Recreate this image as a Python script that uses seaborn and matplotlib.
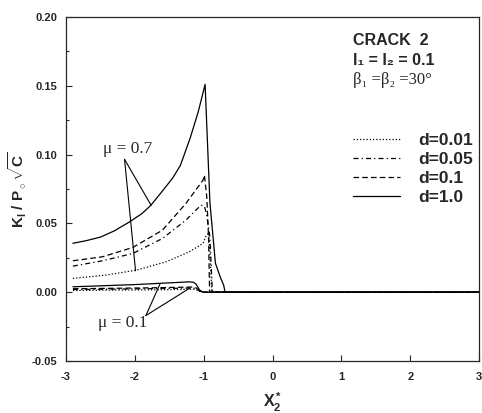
import numpy as np
import pandas as pd
import matplotlib
matplotlib.use("Agg")
import matplotlib.pyplot as plt
import seaborn as sns

# ---- data -------------------------------------------------------------
# mu = 0.7 family
x_d001_m07 = [-2.9, -2.42, -1.98, -1.55, -1.21, -1.01, -0.965, -0.93, -0.90, -0.885, 3.0]
y_d001_m07 = [0.0100, 0.0124, 0.0160, 0.0220, 0.0293, 0.0354, 0.041, 0.043, 0.020, 0.0, 0.0]

x_d005_m07 = [-2.9, -2.47, -2.03, -1.6, -1.26, -1.04, -0.99, -0.96, -0.91, -0.88, -0.87, 3.0]
y_d005_m07 = [0.0189, 0.0228, 0.0281, 0.0390, 0.0523, 0.0632, 0.0625, 0.057, 0.040, 0.006, 0.0, 0.0]

x_d01_m07 = [-2.9, -2.47, -2.03, -1.6, -1.26, -1.01, -0.99, -0.955, -0.93, -0.917, -0.915, 3.0]
y_d01_m07 = [0.0228, 0.0257, 0.0325, 0.0450, 0.0644, 0.0814, 0.085, 0.069, 0.040, 0.006, 0.0, 0.0]

x_d1_m07 = [-2.9, -2.7, -2.5, -2.3, -2.08, -1.9, -1.77, -1.6, -1.45, -1.34, -1.2, -1.08, -0.98,
            -0.91, -0.83, -0.76, -0.71, -0.69, 3.0]
y_d1_m07 = [0.0355, 0.0375, 0.0400, 0.0445, 0.0510, 0.0570, 0.0630, 0.0735, 0.0830, 0.0920,
            0.1115, 0.1310, 0.1510, 0.065, 0.021, 0.011, 0.005, 0.0, 0.0]

# mu = 0.1 family
x_m01 = [-2.9, -2.5, -2.0, -1.69, -1.4, -1.21, -1.15, -1.11, -1.06, -1.01, 3.0]
y_d001_m01 = [0.0012, 0.0014, 0.0016, 0.0017, 0.0019, 0.0021, 0.0021, 0.0018, 0.0006, 0.0, 0.0]
y_d005_m01 = [0.0019, 0.0021, 0.0024, 0.0026, 0.0028, 0.0030, 0.0030, 0.0025, 0.0008, 0.0, 0.0]
y_d01_m01 = [0.0025, 0.0027, 0.0030, 0.0032, 0.0035, 0.0037, 0.0037, 0.0031, 0.0010, 0.0, 0.0]
y_d1_m01 = [0.0039, 0.0046, 0.0055, 0.0063, 0.0070, 0.0075, 0.0072, 0.0058, 0.0015, 0.0, 0.0]

d_labels = ["d=0.01", "d=0.05", "d=0.1", "d=1.0"]

x_ticks = [-3, -2, -1, 0, 1, 2, 3]
y_ticks = [-0.05, 0.00, 0.05, 0.10, 0.15, 0.20]

# ---- style ------------------------------------------------------------
sns.set_style("ticks")
plt.rcParams["font.family"] = ["Liberation Sans", "DejaVu Sans"]
plt.rcParams["axes.unicode_minus"] = False
plt.rcParams["mathtext.fontset"] = "custom"
plt.rcParams["mathtext.rm"] = "Liberation Sans:bold"
plt.rcParams["mathtext.it"] = "Liberation Sans:bold"
plt.rcParams["mathtext.bf"] = "Liberation Sans:bold"

styles = {
    "d=0.01": (0, (1, 1.6)),
    "d=0.05": (0, (4, 2.5, 1, 2.5)),
    "d=0.1": (0, (4.5, 2.5)),
    "d=1.0": "-",
}

fig = plt.figure(figsize=(4.82, 4.13), dpi=100)
ax = fig.add_axes([0.137, 0.126, 0.857, 0.833])

curves = [
    ("d=0.01", x_d001_m07, y_d001_m07), ("d=0.05", x_d005_m07, y_d005_m07),
    ("d=0.1", x_d01_m07, y_d01_m07), ("d=1.0", x_d1_m07, y_d1_m07),
    ("d=0.01", x_m01, y_d001_m01), ("d=0.05", x_m01, y_d005_m01),
    ("d=0.1", x_m01, y_d01_m01), ("d=1.0", x_m01, y_d1_m01),
]
seen = set()
for lab, xs, ys in curves:
    df = pd.DataFrame({"x": xs, "y": ys})
    sns.lineplot(data=df, x="x", y="y", ax=ax, color="black", lw=0.9,
                 linestyle=styles[lab], sort=False, estimator=None,
                 label=lab if lab not in seen else None)
    seen.add(lab)

ax.set_xlim(-3, 3)
ax.set_ylim(-0.05, 0.20)
ax.set_xticks(x_ticks)
ax.set_yticks(y_ticks)
ax.set_yticks(np.arange(-0.025, 0.2, 0.05), minor=True)
ax.set_xticklabels([str(v) for v in x_ticks], fontweight="bold", fontsize=8)
ax.set_yticklabels([f"{v:.2f}" for v in y_ticks], fontweight="bold", fontsize=8)
ax.tick_params(which="both", direction="in", top=False, right=False)
ax.tick_params(which="major", length=4, width=0.8)
ax.tick_params(which="minor", length=2.5, width=0.8)
ax.tick_params(axis="x", pad=8)
ax.tick_params(axis="y", pad=6)
for s in ax.spines.values():
    s.set_linewidth(0.9)
    s.set_visible(True)

ax.set_xlabel(r"X$_2^*$", fontsize=11.5, fontweight="bold", va="top")
ax.xaxis.set_label_coords(0.5, -0.088)
ax.set_ylabel(r"K$_{\rm I}$ / P$_\circ\sqrt{\rm C}$", fontsize=11, fontweight="bold")
ax.yaxis.set_label_coords(-0.09, 0.497)

# legend
handles, labels = ax.get_legend_handles_labels()
leg = ax.legend(handles, labels, loc="upper left", bbox_to_anchor=(0.678, 0.682),
                frameon=False, handlelength=2.7, handletextpad=1.03,
                labelspacing=0.22, borderaxespad=0, prop={"weight": "bold", "size": 12.5})

# caption block
ax.text(1.17, 0.183, "CRACK  2", fontsize=11.5, fontweight="bold", va="center", ha="left")
ax.text(1.17, 0.1686, "l\u2081 = l\u2082 = 0.1", fontsize=11.5, fontweight="bold", va="center",
        ha="left", family=["Liberation Sans", "DejaVu Sans"])
ax.text(1.17, 0.154, "\u03b2\u2081 =\u03b2\u2082 =30\u00b0", fontsize=12, va="center", ha="left",
        family=["Liberation Serif", "DejaVu Serif"])

# mu annotations
serif = ["Liberation Serif", "DejaVu Serif"]
ax.text(-2.1, 0.104, "\u03bc = 0.7", fontsize=12.5, ha="center", va="center", family=serif)
apex07 = (-2.15, 0.0965)
for end in [(-1.765, 0.0632), (-1.99, 0.0155)]:
    ax.annotate("", xy=end, xytext=apex07,
                arrowprops=dict(arrowstyle="-", lw=0.8, color="black", shrinkA=0, shrinkB=0))

ax.text(-2.17, -0.0225, "\u03bc = 0.1", fontsize=12.5, ha="center", va="center", family=serif)
apex01 = (-1.84, -0.017)
for end in [(-1.634, 0.0061), (-1.20, 0.0030)]:
    ax.annotate("", xy=end, xytext=apex01,
                arrowprops=dict(arrowstyle="-", lw=0.8, color="black", shrinkA=0, shrinkB=0))

fig.savefig("out.png", dpi=100)
